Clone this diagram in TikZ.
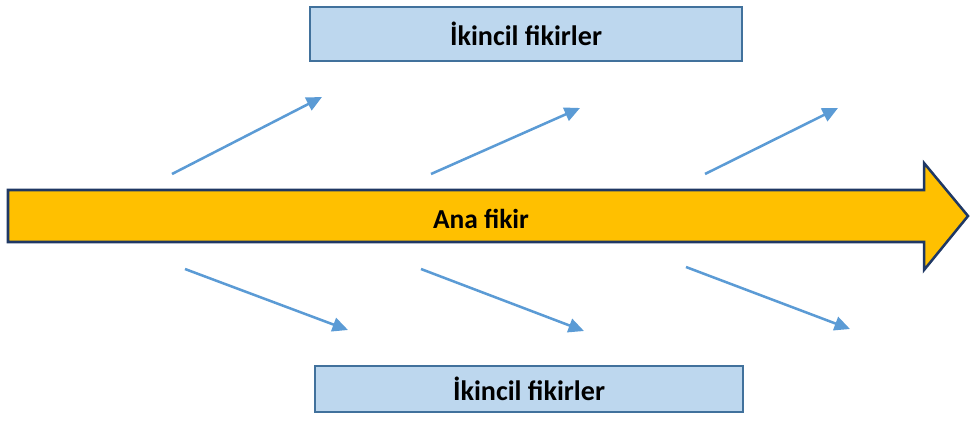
\documentclass[tikz,border=0pt]{standalone}
\usepackage{fontspec}
\setmainfont{Carlito}
\usetikzlibrary{arrows.meta}

\definecolor{boxfill}{HTML}{BDD7EE}
\definecolor{boxline}{HTML}{41719C}
\definecolor{mainfill}{HTML}{FFC000}
\definecolor{mainline}{HTML}{1F3864}
\definecolor{spokeblue}{HTML}{5B9BD5}

% spokes: start x / start y / tip x / tip y (pixels, y down)
\def \topspokes {172/174/322/97,431/174/580/108,705/174/838/108}
\def \bottomspokes {185/269/348/330,421/269/584/331,686/267/850/329}

\begin{document}
\begin{tikzpicture}
   [x=0.025cm, y=-0.025cm,
   idea/.style={draw=boxline, line width=1.4pt, fill=boxfill, inner sep=0pt,
      font=\fontsize{20}{24}\selectfont\bfseries},
   mainidea/.style={draw=none, fill=none, font=\fontsize{19.5}{23}\selectfont\bfseries},
   spoke/.style={draw=spokeblue, line width=1.8pt, -{Triangle[length=11pt,width=10pt]}}]{
\useasboundingbox (0,0) rectangle (970,423);

% main arrow
\draw[draw=mainline, line width=1.8pt, fill=mainfill, line join=miter]
   (8,190) -- (924,190) -- (924,163) -- (968,216) -- (924,270) -- (924,242) -- (8,242) -- cycle;
\node[mainidea] (main) at (481,219) {Ana fikir};

% secondary boxes
\node[idea, minimum width=432*0.025cm, minimum height=54*0.025cm] (top) at (526,34) {İkincil fikirler};
\node[idea, minimum width=428*0.025cm, minimum height=46*0.025cm] (bottom) at (529,389) {İkincil fikirler};

\foreach \sx / \sy / \tx / \ty [count=\i] in \topspokes {
   \coordinate (t\i a) at (\sx,\sy);
   \coordinate (t\i b) at (\tx,\ty);
   \draw[spoke] (t\i a) -- (t\i b);}

\foreach \sx / \sy / \tx / \ty [count=\i] in \bottomspokes {
   \coordinate (b\i a) at (\sx,\sy);
   \coordinate (b\i b) at (\tx,\ty);
   \draw[spoke] (b\i a) -- (b\i b);}
};
\end{tikzpicture}
\end{document}
